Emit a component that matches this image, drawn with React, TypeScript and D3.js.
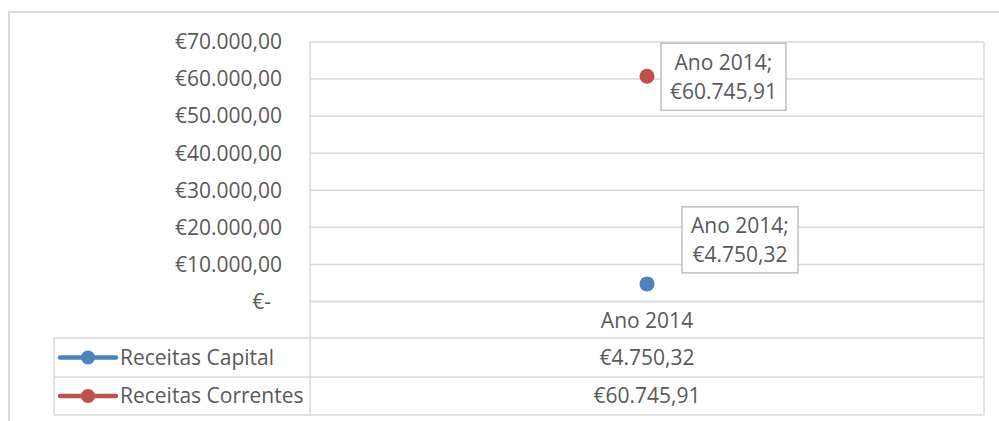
import React from "react";
import * as d3 from "d3";

const categories = ["Ano 2014"];
const seriesNames = ["Receitas Capital", "Receitas Correntes"];
const seriesColors = ["#4f81bd", "#c0504d"];
const seriesValues = [[4750.32], [60745.91]];
const yTicks = [0, 10000, 20000, 30000, 40000, 50000, 60000, 70000];

const W = 999;
const H = 421;
const plotL = 310;
const plotR = 984;
const plotT = 42;
const plotB = 301.5;
const tableL = 54;
const rowLines = [301.5, 338, 377, 415];
const FONT = "'Open Sans', sans-serif";
const TXT = "#595959";
const GRID = "#d9d9d9";

function fmtEuro(v: number): string {
  if (v === 0) return "€-";
  const [intPart, dec] = v.toFixed(2).split(".");
  const withDots = intPart.replace(/\B(?=(\d{3})+(?!\d))/g, ".");
  return "€" + withDots + "," + dec;
}

export default function App() {
  const y = d3.scaleLinear().domain([0, 70000]).range([plotB, plotT]);
  const x = d3.scaleBand().domain(categories).range([plotL, plotR]);
  const fs = 21;
  const labelBoxes = [
    { dx: 35, w: 116, h: 66, top: -77 },
    { dx: 14, w: 125, h: 67, top: -33 },
  ];
  return (
    <svg
      width={W}
      height={H}
      style={{ position: "absolute", left: 0, top: 0, background: "#fff" }}
      fontFamily={FONT}
    >
      <rect x={9} y={12} width={1000} height={420} fill="#fff" stroke={GRID} strokeWidth={2} />
      {yTicks.map((t) => (
        <line key={t} x1={plotL} x2={plotR} y1={y(t)} y2={y(t)} stroke={GRID} strokeWidth={1.5} />
      ))}
      {yTicks.map((t) => (
        <text
          key={"l" + t}
          x={t === 0 ? 271 : 282}
          y={y(t)}
          dy="0.35em"
          textAnchor="end"
          fontSize={fs}
          fill={TXT}
        >
          {fmtEuro(t)}
        </text>
      ))}
      {rowLines.map((ry, i) => (
        <line
          key={"r" + i}
          x1={i === 0 ? plotL : tableL}
          x2={plotR}
          y1={ry}
          y2={ry}
          stroke={GRID}
          strokeWidth={1.5}
        />
      ))}
      <line x1={tableL} x2={tableL} y1={rowLines[1]} y2={rowLines[3]} stroke={GRID} strokeWidth={1.5} />
      <line x1={plotL} x2={plotL} y1={plotT} y2={rowLines[3]} stroke={GRID} strokeWidth={1.5} />
      <line x1={plotR} x2={plotR} y1={plotT} y2={rowLines[3]} stroke={GRID} strokeWidth={1.5} />
      {categories.map((c) => (
        <text
          key={c}
          x={(x(c) ?? 0) + x.bandwidth() / 2}
          y={(rowLines[0] + rowLines[1]) / 2 + 1}
          dy="0.35em"
          textAnchor="middle"
          fontSize={fs}
          fill={TXT}
        >
          {c}
        </text>
      ))}
      {seriesNames.map((s, i) => {
        const cy = (rowLines[i + 1] + rowLines[i + 2]) / 2;
        return (
          <g key={s}>
            <line x1={60} x2={116} y1={cy} y2={cy} stroke={seriesColors[i]} strokeWidth={4.5} strokeLinecap="round" />
            <circle cx={88} cy={cy} r={7} fill={seriesColors[i]} />
            <text x={120} y={cy} dy="0.35em" fontSize={fs} fill={TXT}>
              {s}
            </text>
            {categories.map((c, j) => (
              <text
                key={c}
                x={(x(c) ?? 0) + x.bandwidth() / 2}
                y={cy}
                dy="0.35em"
                textAnchor="middle"
                fontSize={fs}
                fill={TXT}
              >
                {fmtEuro(seriesValues[i][j])}
              </text>
            ))}
          </g>
        );
      })}
      {seriesNames.map((s, i) =>
        categories.map((c, j) => {
          const px = (x(c) ?? 0) + x.bandwidth() / 2;
          const py = y(seriesValues[i][j]);
          const b = labelBoxes[i];
          const bx = px + b.dx;
          const by = py + b.top;
          return (
            <g key={s + c}>
              <circle cx={px} cy={py} r={7.5} fill={seriesColors[i]} />
              <rect x={bx} y={by} width={b.w} height={b.h} fill="#fff" stroke="#bfbfbf" strokeWidth={1.5} />
              <text x={bx + b.w / 2} y={by + b.h / 2 - 14} dy="0.35em" textAnchor="middle" fontSize={fs} fill={TXT}>
                {c + ";"}
              </text>
              <text x={bx + b.w / 2} y={by + b.h / 2 + 15} dy="0.35em" textAnchor="middle" fontSize={fs} fill={TXT}>
                {fmtEuro(seriesValues[i][j])}
              </text>
            </g>
          );
        })
      )}
    </svg>
  );
}
